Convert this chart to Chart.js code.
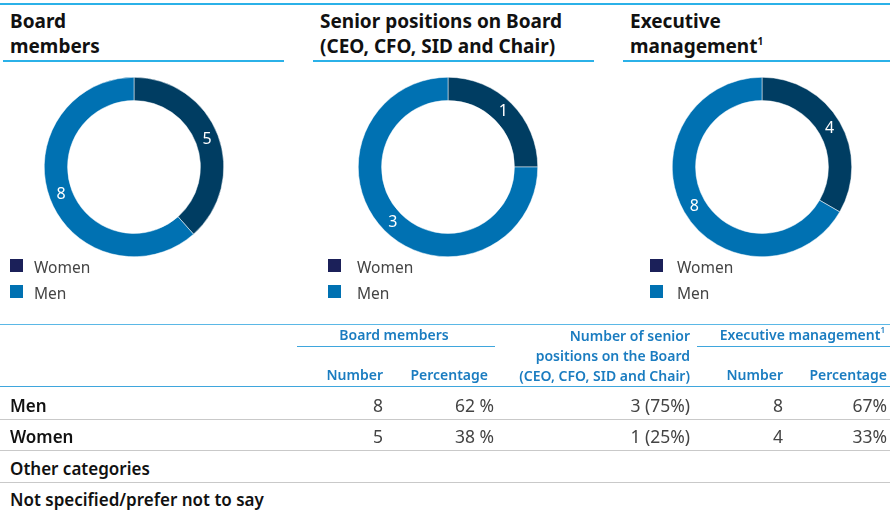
<!DOCTYPE html>
<html>
<head>
<meta charset="utf-8">
<script src="https://cdn.jsdelivr.net/npm/chart.js@4"></script>
<style>
  body { margin: 0; background: #fff; font-family: "Noto Sans", sans-serif; }
  #wrap { position: relative; width: 890px; height: 510px; overflow: hidden; }
  .abs { position: absolute; }
  .rule { position: absolute; height: 0; border-top: 2px solid #2bb1e8; }
  .title { position: absolute; font-weight: 700; font-size: 19px; line-height: 25px; color: #111; white-space: nowrap; }
  .title sup { font-size: 10px; line-height: 0; vertical-align: 8px; }
  .leg { position: absolute; font-size: 15.5px; color: #444; }
  .leg i { position: absolute; left: 0; top: 3px; width: 13px; height: 13px; }
  .leg span { position: absolute; top: 0; white-space: nowrap; }
  .th { position: absolute; color: #1a7cc0; font-weight: 600; font-size: 14px; text-align: right; line-height: 20px; white-space: nowrap; }
  .th sup { font-size: 8px; line-height: 0; vertical-align: 7px; }
  .rl { position: absolute; left: 10px; font-weight: 600; font-size: 17px; color: #111; white-space: nowrap; }
  .val { position: absolute; font-size: 17.5px; color: #444; text-align: right; white-space: nowrap; }
  .hr { position: absolute; left: 0; width: 890px; border-top: 1px solid #c9c9c9; }
</style>
</head>
<body>
<div id="wrap"></div>
<script>
// Chart data
const legendLabels = ['Women', 'Men'];
const boardValues = [5, 8];
const seniorValues = [1, 3];
const execValues = [4, 8];

// Table data
const rowLabels = ['Men', 'Women', 'Other categories', 'Not specified/prefer not to say'];
const boardNumbers = ['8', '5'];
const boardPercent = ['62 %', '38 %'];
const seniorCells = ['3 (75%)', '1 (25%)'];
const execNumbers = ['8', '4'];
const execPercent = ['67%', '33%'];

const ringColors = ['#003d62', '#0071b2'];
const legendColors = ['#1b2059', '#0071b2'];

const wrap = document.getElementById('wrap');
function add(cls, style, html) {
  const d = document.createElement('div');
  d.className = cls;
  Object.assign(d.style, style);
  if (html !== undefined) d.innerHTML = html;
  wrap.appendChild(d);
  return d;
}

// Rules around the titles
add('rule', {left: '0px', top: '3px', width: '890px'});
const panels = [
  {x: 0, cx: 134, lx: 10, gap: 24, title: 'Board<br>members', values: boardValues},
  {x: 310, cx: 448, lx: 328, gap: 29, title: 'Senior positions on Board<br>(CEO, CFO, SID and Chair)', values: seniorValues},
  {x: 620, cx: 762, lx: 650, gap: 27, title: 'Executive<br>management<sup>1</sup>', values: execValues},
];

// Value labels drawn at the middle of each arc
const arcLabels = {
  id: 'arcLabels',
  afterDatasetsDraw(chart) {
    const ctx = chart.ctx;
    const ds = chart.data.datasets[0];
    chart.getDatasetMeta(0).data.forEach((arc, i) => {
      const p = arc.tooltipPosition();
      ctx.save();
      ctx.fillStyle = '#fff';
      ctx.font = '16px "Noto Sans"';
      ctx.textAlign = 'center';
      ctx.textBaseline = 'middle';
      ctx.fillText(ds.data[i], p.x, p.y);
      ctx.restore();
    });
  }
};

panels.forEach(p => {
  add('title', {left: (p.x + 10) + 'px', top: '9px'}, p.title);
  add('rule', {left: (p.x + 3) + 'px', top: '60px', width: '281px'});

  const c = document.createElement('canvas');
  const holder = add('abs', {left: (p.cx - 90) + 'px', top: '77px', width: '180px', height: '180px'});
  holder.appendChild(c);
  new Chart(c, {
    type: 'doughnut',
    data: {
      labels: legendLabels,
      datasets: [{data: p.values, backgroundColor: ringColors, borderColor: '#fff', borderWidth: 0.5, hoverOffset: 0}]
    },
    options: {
      responsive: true,
      maintainAspectRatio: false,
      animation: false,
      cutout: '74%',
      layout: {padding: 0},
      plugins: {legend: {display: false}, tooltip: {enabled: false}}
    },
    plugins: [arcLabels]
  });

  legendLabels.forEach((l, i) => {
    const lg = add('leg', {left: p.lx + 'px', top: (256 + i * 26) + 'px'});
    lg.innerHTML = `<i style="background:${legendColors[i]}"></i><span style="left:${p.gap}px">${l}</span>`;
  });
});

// Table
add('rule', {left: '0px', top: '324px', width: '890px', borderTopWidth: '1.5px', borderTopColor: '#5bb8e6'});
add('th', {right: (890 - 494) + 'px', top: '325px', width: '200px', textAlign: 'center'}, 'Board members');
add('rule', {left: '297px', top: '346px', width: '198px', borderTopWidth: '1px', borderTopColor: '#3fa6dd'});
add('th', {right: '5px', top: '325px'}, 'Executive management<sup>1</sup>');
add('rule', {left: '697px', top: '346px', width: '193px', borderTopWidth: '1px', borderTopColor: '#3fa6dd'});
add('th', {right: (890 - 690) + 'px', top: '326px'}, 'Number of senior<br>positions on the Board<br>(CEO, CFO, SID and Chair)');
add('th', {right: (890 - 383) + 'px', top: '365px'}, 'Number');
add('th', {right: (890 - 488) + 'px', top: '365px'}, 'Percentage');
add('th', {right: (890 - 783) + 'px', top: '365px'}, 'Number');
add('th', {right: (890 - 887) + 'px', top: '365px'}, 'Percentage');
add('rule', {left: '0px', top: '386px', width: '890px', borderTopWidth: '1.5px', borderTopColor: '#3fa6dd'});

const rowTops = [394, 425, 457, 488];
rowLabels.forEach((r, i) => {
  add('rl', {top: rowTops[i] + 'px'}, r);
  if (i < 3) add('hr', {top: (rowTops[i] + 25) + 'px'});
});
[0, 1].forEach(i => {
  const t = (rowTops[i] - 1) + 'px';
  add('val', {right: (890 - 383) + 'px', top: t}, boardNumbers[i]);
  add('val', {right: (890 - 494) + 'px', top: t}, boardPercent[i]);
  add('val', {right: (890 - 690) + 'px', top: t}, seniorCells[i]);
  add('val', {right: (890 - 783) + 'px', top: t}, execNumbers[i]);
  add('val', {right: (890 - 887) + 'px', top: t}, execPercent[i]);
});
</script>
</body>
</html>
